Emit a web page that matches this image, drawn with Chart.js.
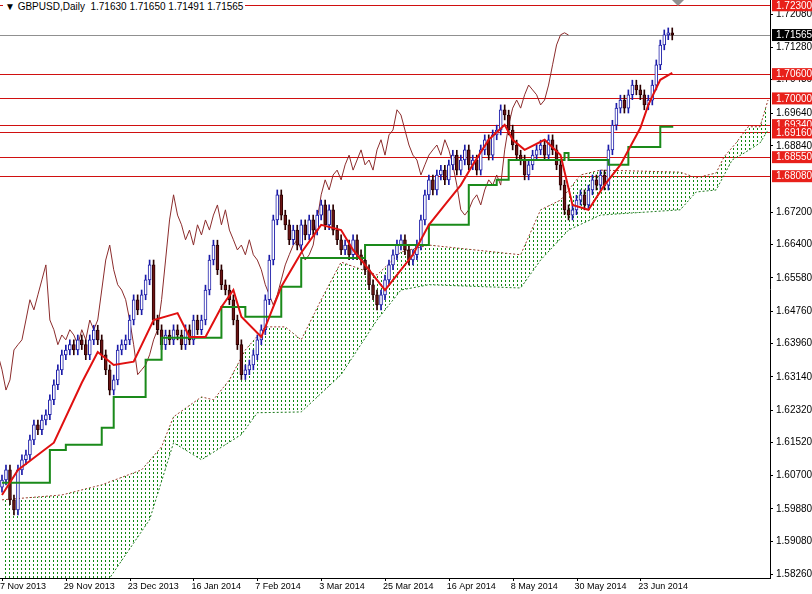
<!DOCTYPE html>
<html><head><meta charset="utf-8">
<script src="https://cdn.jsdelivr.net/npm/chart.js@4"></script>
<style>
html,body{margin:0;padding:0;background:#fff;}
#wrap{position:relative;width:812px;height:594px;}
#hdr{position:absolute;left:3px;top:1px;font:10px "Liberation Sans",Arial,sans-serif;color:#000;background:#fff;padding:0 2px;}
</style></head>
<body><div id="wrap"><canvas id="c" width="812" height="594"></canvas>
<div id="hdr">&#9660; GBPUSD,Daily&nbsp; 1.71630 1.71650 1.71491 1.71565</div></div>
<script>
const closes=[1.6058,1.6083,1.6009,1.5984,1.6083,1.6108,1.6120,1.6157,1.6194,1.6182,1.6206,1.6219,1.6256,1.6293,1.6330,1.6367,1.6379,1.6392,1.6379,1.6404,1.6392,1.6367,1.6404,1.6428,1.6404,1.6367,1.6330,1.6280,1.6305,1.6379,1.6392,1.6404,1.6453,1.6503,1.6478,1.6515,1.6552,1.6589,1.6453,1.6429,1.6392,1.6416,1.6404,1.6429,1.6416,1.6392,1.6429,1.6404,1.6453,1.6429,1.6453,1.6527,1.6601,1.6638,1.6577,1.6540,1.6527,1.6503,1.6453,1.6392,1.6318,1.6330,1.6342,1.6367,1.6404,1.6429,1.6503,1.6601,1.6700,1.6762,1.6712,1.6688,1.6651,1.6675,1.6638,1.6688,1.6663,1.6700,1.6675,1.6712,1.6737,1.6688,1.6725,1.6675,1.6651,1.6626,1.6638,1.6614,1.6651,1.6614,1.6601,1.6577,1.6540,1.6515,1.6490,1.6515,1.6552,1.6589,1.6614,1.6638,1.6651,1.6626,1.6601,1.6614,1.6638,1.6700,1.6762,1.6799,1.6774,1.6811,1.6823,1.6799,1.6836,1.6860,1.6823,1.6848,1.6873,1.6836,1.6848,1.6823,1.6873,1.6898,1.6860,1.6910,1.6922,1.6972,1.6959,1.6922,1.6885,1.6860,1.6848,1.6811,1.6836,1.6860,1.6873,1.6885,1.6860,1.6898,1.6873,1.6836,1.6786,1.6725,1.6712,1.6725,1.6749,1.6762,1.6737,1.6774,1.6799,1.6786,1.6811,1.6786,1.6873,1.6934,1.6976,1.6996,1.6976,1.7009,1.7033,1.7021,1.7009,1.6984,1.6996,1.7033,1.7083,1.7132,1.7157,1.7162,1.71565];
const firstOpen=1.6040;
const tenkanIdx=[0,4,13,20,24,28,33,38,44,47,51,55,58,60,65,70,75,80,85,88,92,96,100,103,107,111,115,118,122,126,128,131,136,140,143,147,151,155,160,162,165,168];
const tenkanVal=[1.6021,1.6083,1.6150,1.6298,1.6374,1.6342,1.6350,1.6453,1.6470,1.6411,1.6411,1.6485,1.6527,1.6461,1.6411,1.6535,1.6619,1.6688,1.6675,1.6626,1.6577,1.6527,1.6577,1.6614,1.6688,1.6737,1.6786,1.6836,1.6898,1.6935,1.6898,1.6873,1.6898,1.6860,1.6737,1.6725,1.6786,1.6836,1.6927,1.6984,1.7046,1.7063];
const kijunIdx=[0,12,16,25,28,36,40,55,61,70,75,91,107,117,124,127,141,142,152,157,165,168];
const kijunVal=[1.6051,1.6132,1.6145,1.6187,1.6263,1.6355,1.6409,1.6485,1.6461,1.6535,1.6606,1.6638,1.6688,1.6786,1.6799,1.6848,1.6865,1.6848,1.6836,1.6880,1.6930,1.6932];
const spanAIdx=[0,15,25,35,40,43,50,53,57,61,66,71,75,80,85,94,100,107,130,135,140,145,150,170,174,179,181,184,187,190,192];
const spanAVal=[1.6009,1.6021,1.6046,1.6083,1.6140,1.6214,1.6263,1.6256,1.6305,1.6379,1.6436,1.6436,1.6404,1.6503,1.6596,1.6564,1.6621,1.6638,1.6614,1.6725,1.6749,1.6811,1.6823,1.6818,1.6804,1.6816,1.6856,1.6890,1.6930,1.6930,1.6996];
const spanBIdx=[0,25,37,43,50,60,64,75,85,94,100,107,130,135,142,150,170,174,179,183,186,190,192];
const spanBVal=[1.5762,1.5787,1.5960,1.6150,1.6108,1.6170,1.6224,1.6226,1.6318,1.6453,1.6527,1.6540,1.6532,1.6601,1.6675,1.6712,1.6725,1.6769,1.6774,1.6848,1.6865,1.6890,1.6922];
const levels=[1.7230,1.7060,1.7000,1.6934,1.6916,1.6855,1.6808];
const levelLabels=['1.72300','1.70600','1.70000','1.69340','1.69160','1.68550','1.68080'];
const lastPrice=1.71565;
const yTicks=[1.7208,1.7128,1.7048,1.6964,1.6884,1.6720,1.6640,1.6558,1.6476,1.6396,1.6314,1.6232,1.6152,1.6070,1.5988,1.5908,1.5826];
const xLabelIdx=[0,16,32,48,64,80,96,112,128,144,160];
const xLabels=['7 Nov 2013','29 Nov 2013','23 Dec 2013','16 Jan 2014','7 Feb 2014','3 Mar 2014','25 Mar 2014','16 Apr 2014','8 May 2014','30 May 2014','23 Jun 2014'];
const WICK=0.0012, SHIFT=26;

const opens=closes.map((c,i)=>i?closes[i-1]:firstOpen);
const bodies=closes.map((c,i)=>({x:i,y:[opens[i],c]}));
const wicks=closes.map((c,i)=>({x:i,y:[Math.min(opens[i],c)-WICK,Math.max(opens[i],c)+WICK]}));
const bodyCol=closes.map((c,i)=>c>=opens[i]?'#ffffff':'#6b1414');
const bodyBorder=closes.map((c,i)=>c>=opens[i]?'#1b1ba8':'#2a0000');
const wickCol=closes.map((c,i)=>c>=opens[i]?'#1b1ba8':'#2a0000');
const pts=(ix,v)=>ix.map((x,i)=>({x,y:v[i]}));
const chikou=closes.map((c,i)=>({x:i-SHIFT,y:c}));

const pc=document.createElement('canvas');pc.width=4;pc.height=4;
const pctx=pc.getContext('2d');pctx.fillStyle='#118811';pctx.fillRect(1,0,1,2);
const pattern=document.getElementById('c').getContext('2d').createPattern(pc,'repeat');

const deco={id:'deco',
 beforeDatasetsDraw(ch){const {ctx,chartArea:a,scales:{y}}=ch;ctx.save();
  ctx.strokeStyle='#d01010';ctx.lineWidth=1;
  levels.forEach(l=>{const py=Math.round(y.getPixelForValue(l))+0.5;ctx.beginPath();ctx.moveTo(a.left,py);ctx.lineTo(a.right,py);ctx.stroke();});
  ctx.strokeStyle='#909090';const py=Math.round(y.getPixelForValue(lastPrice))+0.5;ctx.beginPath();ctx.moveTo(a.left,py);ctx.lineTo(a.right,py);ctx.stroke();
  ctx.restore();},
 afterDraw(ch){const {ctx,chartArea:a,scales:{x,y}}=ch;ctx.save();
  ctx.font='10px "Liberation Sans",Arial';ctx.textBaseline='middle';ctx.fillStyle='#000';
  yTicks.forEach(v=>{const py=y.getPixelForValue(v);ctx.fillRect(a.right,Math.round(py),3,1);ctx.fillText(v.toFixed(5),a.right+6,py+0.5);});
  ctx.font='9px "Liberation Sans",Arial';ctx.textAlign='left';
  xLabelIdx.forEach((v,i)=>{const px=x.getPixelForValue(v);ctx.fillRect(Math.round(px),a.bottom,1,3);ctx.fillText(xLabels[i],Math.max(0,px-2),a.bottom+9);});
  ctx.font='10px "Liberation Sans",Arial';ctx.textAlign='left';
  const lab=(v,t,bg)=>{const py=y.getPixelForValue(v);ctx.fillStyle=bg;ctx.fillRect(a.right+2,py-6,44,12);ctx.fillStyle='#fff';ctx.fillText(t,a.right+6,py+0.5);};
  levels.forEach((l,i)=>lab(l,levelLabels[i],'#e8201a'));
  lab(lastPrice,'1.71565','#000');
  ctx.fillStyle='#909090';ctx.beginPath();ctx.moveTo(672,0);ctx.lineTo(684,0);ctx.lineTo(678,6);ctx.fill();
  ctx.restore();}};

new Chart(document.getElementById('c'),{
 type:'bar',
 data:{datasets:[
  {type:'line',data:pts(spanAIdx,spanAVal),borderColor:'#9c3a2a',borderWidth:1,borderDash:[2,2],pointRadius:0,fill:false,order:10},
  {type:'line',data:pts(spanBIdx,spanBVal),borderColor:'#1f7a1f',borderWidth:1,borderDash:[2,2],pointRadius:0,fill:'-1',backgroundColor:pattern,order:9},
  {type:'line',data:chikou,borderColor:'#8b2c2c',borderWidth:1,pointRadius:0,order:8},
  {data:wicks,backgroundColor:wickCol,barThickness:1,grouped:false,order:5},
  {data:bodies,backgroundColor:bodyCol,borderColor:bodyBorder,borderWidth:1,borderSkipped:false,barThickness:3,grouped:false,order:4},
  {type:'line',data:pts(kijunIdx,kijunVal),borderColor:'#1a8a1a',borderWidth:2,stepped:'before',pointRadius:0,order:2},
  {type:'line',data:pts(tenkanIdx,tenkanVal),borderColor:'#e01010',borderWidth:2,pointRadius:0,order:1}
 ]},
 options:{animation:false,responsive:false,devicePixelRatio:1,
  layout:{padding:0},
  plugins:{legend:{display:false},tooltip:{enabled:false}},
  scales:{
   x:{type:'linear',min:-0.5,max:192.5,offset:false,grid:{display:false},border:{color:'#000'},
     afterFit:s=>{s.height=16;s.paddingLeft=0;s.paddingRight=0;},
     ticks:{display:false}},
   y:{position:'right',min:1.5816,max:1.7243,grid:{display:false},border:{color:'#000'},
     afterFit:s=>{s.width=42;s.paddingTop=0;s.paddingBottom=0;},
     ticks:{display:false}}
  }},
 plugins:[deco]});
</script></body></html>
